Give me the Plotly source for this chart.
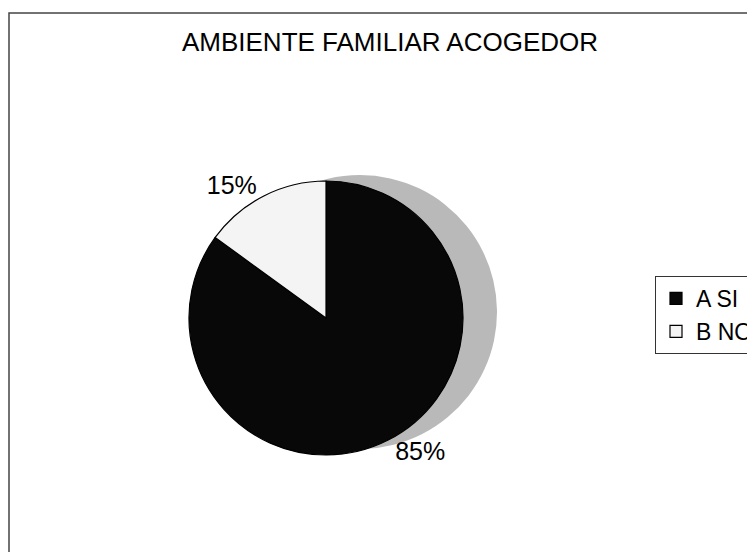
import plotly.graph_objects as go

labels = ["A SI", "B NO"]
values = [85, 15]
colors = ["#080808", "#f4f4f4"]
title_text = "AMBIENTE FAMILIAR ACOGEDOR"

W, H = 755, 552
OFF = 8  # page body margin compensation
cx, cy, r = 326 - OFF, 318 - OFF, 137
dom_x = [(cx - r) / W, (cx + r) / W]
dom_y = [(H - cy - r) / H, (H - cy + r) / H]
sh_dx, sh_dy = 34, 6
sh_x = [(cx - r + sh_dx) / W, (cx + r + sh_dx) / W]
sh_y = [(H - cy - r + sh_dy) / H, (H - cy + r + sh_dy) / H]

FONT = "Liberation Sans, Arial"

fig = go.Figure()
# soft shadow (decorative)
fig.add_trace(go.Pie(
    labels=labels, values=values, sort=False, direction="clockwise", rotation=0,
    marker=dict(colors=["rgba(100,100,100,0.45)"] * 2, line=dict(width=0)),
    textinfo="none", hoverinfo="skip", showlegend=False,
    domain=dict(x=sh_x, y=sh_y),
))
fig.add_trace(go.Pie(
    labels=labels, values=values, sort=False, direction="clockwise", rotation=0,
    marker=dict(colors=colors, line=dict(color="#000000", width=1.2)),
    textinfo="percent", textposition="outside",
    textfont=dict(family=FONT, size=25, color="#000000"),
    domain=dict(x=dom_x, y=dom_y),
))

fig.update_layout(
    width=W, height=H,
    margin=dict(l=0, r=0, t=0, b=0),
    paper_bgcolor="white",
    font=dict(family=FONT, color="#000000"),
    title=dict(text=title_text, x=(390 - OFF) / W, xanchor="center", y=1 - (42 - OFF) / H, yanchor="middle",
               font=dict(size=26, color="#000000", family=FONT)),
    legend=dict(x=(655 - OFF) / W, y=1 - (276 - OFF) / H, xanchor="left", yanchor="top",
                bordercolor="#333333", borderwidth=1, bgcolor="white",
                font=dict(size=23, color="#000000"), itemwidth=30),
    shapes=[dict(type="rect", xref="paper", yref="paper", x0=(8 - OFF + 1) / W, x1=1.05, y0=-0.05,
                 y1=1 - (13 - OFF) / H, line=dict(color="#444444", width=1.5))],
)

fig.write_html("out.html")
